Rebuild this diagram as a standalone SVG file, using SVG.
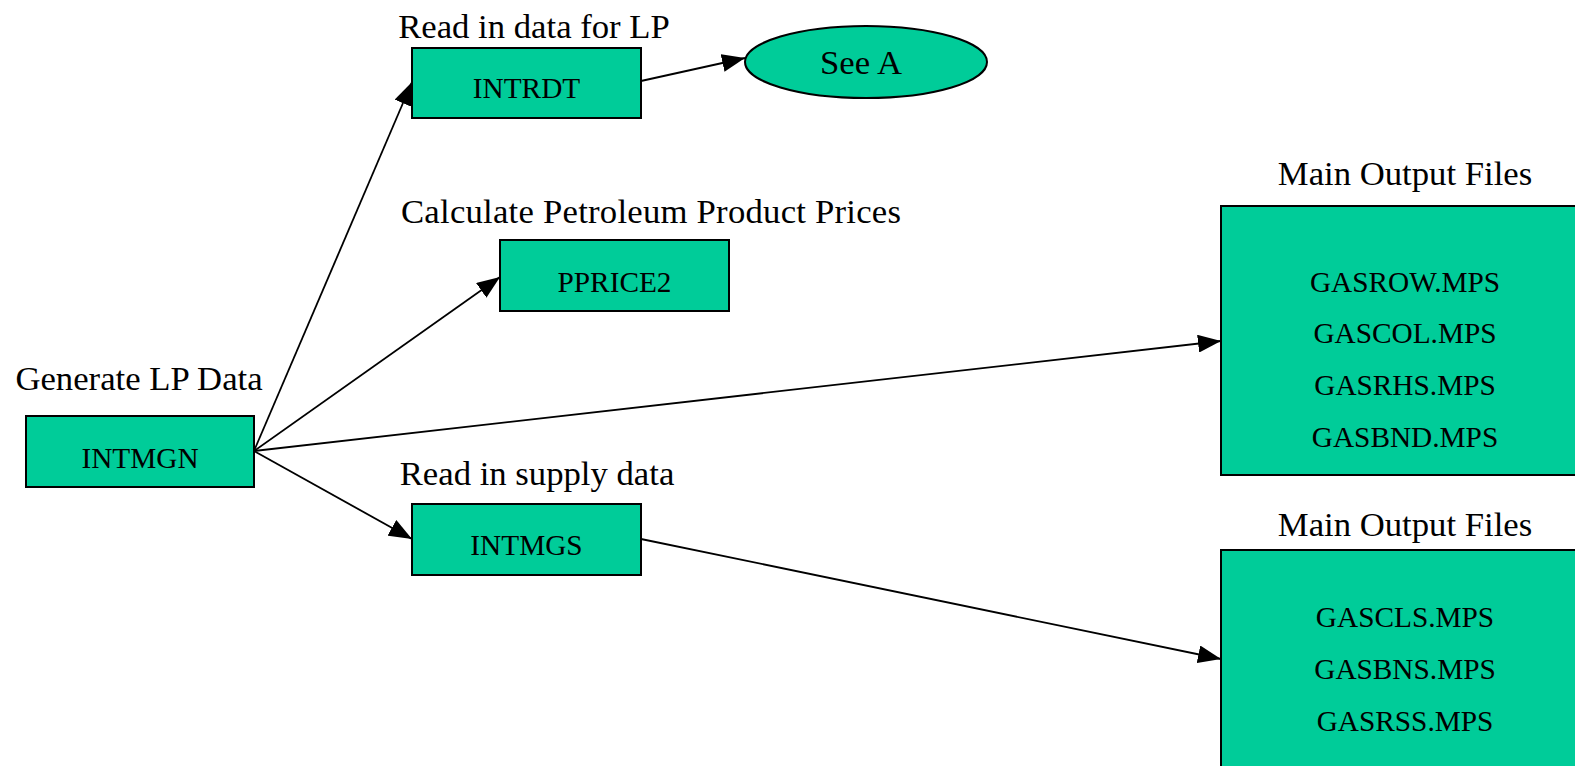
<svg xmlns="http://www.w3.org/2000/svg" width="1575" height="766" viewBox="0 0 1575 766">
<style>
.box{fill:#00CC99;stroke:#000;stroke-width:2}
.bt{font-family:"Liberation Serif","Times New Roman",serif;font-size:29.3px;fill:#000;text-anchor:middle}
.lb{font-family:"Liberation Serif","Times New Roman",serif;font-size:34.7px;fill:#000;text-anchor:middle}
.cn{stroke:#000;stroke-width:1.8;fill:none;marker-end:url(#ah)}
</style>
<defs>
<marker id="ah" markerWidth="23" markerHeight="18" refX="23" refY="9" orient="auto" markerUnits="userSpaceOnUse">
<path d="M0,0 L23,9 L0,18 Z" fill="#000"/>
</marker>
</defs>
<rect width="1575" height="766" fill="#fff"/>
<g id="connectors">
<line class="cn" x1="254" y1="451" x2="412" y2="82"/>
<line class="cn" x1="254" y1="451" x2="500" y2="277"/>
<line class="cn" x1="254" y1="451" x2="1221" y2="341"/>
<line class="cn" x1="254" y1="451" x2="412" y2="539"/>
<line class="cn" x1="641" y1="81" x2="745" y2="58"/>
<line class="cn" x1="641" y1="539" x2="1221" y2="659"/>
</g>
<g id="intmgn">
<text class="lb" x="139" y="390">Generate LP Data</text>
<rect class="box" x="26" y="416" width="228" height="71"/>
<text class="bt" x="140" y="468">INTMGN</text>
</g>
<g id="intrdt">
<text class="lb" x="534" y="38">Read in data for LP</text>
<rect class="box" x="412" y="48" width="229" height="70"/>
<text class="bt" x="526.5" y="98">INTRDT</text>
</g>
<g id="seea">
<ellipse class="box" cx="866" cy="62" rx="121" ry="36"/>
<text class="lb" x="861" y="74">See A</text>
</g>
<g id="pprice2">
<text class="lb" x="651" y="223" textLength="500">Calculate Petroleum Product Prices</text>
<rect class="box" x="500" y="240" width="229" height="71"/>
<text class="bt" x="614.5" y="292">PPRICE2</text>
</g>
<g id="intmgs">
<text class="lb" x="537" y="485">Read in supply data</text>
<rect class="box" x="412" y="504" width="229" height="71"/>
<text class="bt" x="526.5" y="555">INTMGS</text>
</g>
<g id="out1">
<text class="lb" x="1405" y="185">Main Output Files</text>
<rect class="box" x="1221" y="206" width="360" height="269"/>
<text class="bt" x="1405" y="292">GASROW.MPS</text>
<text class="bt" x="1405" y="343">GASCOL.MPS</text>
<text class="bt" x="1405" y="395">GASRHS.MPS</text>
<text class="bt" x="1405" y="447">GASBND.MPS</text>
</g>
<g id="out2">
<text class="lb" x="1405" y="536">Main Output Files</text>
<rect class="box" x="1221" y="550" width="360" height="230"/>
<text class="bt" x="1405" y="627">GASCLS.MPS</text>
<text class="bt" x="1405" y="679">GASBNS.MPS</text>
<text class="bt" x="1405" y="731">GASRSS.MPS</text>
</g>
</svg>
